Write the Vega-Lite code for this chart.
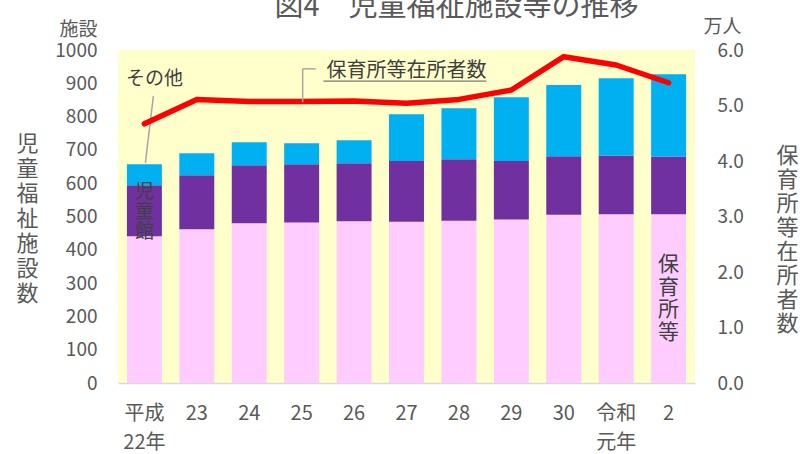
{
  "$schema": "https://vega.github.io/schema/vega-lite/v6.json",
  "width": 577,
  "height": 333,
  "autosize": {"type": "none"},
  "padding": {"left": 118, "top": 50, "right": 110, "bottom": 71},
  "background": "white",
  "config": {
    "font": "Noto Sans CJK JP",
    "view": {"fill": "#FFFFCC", "stroke": null},
    "axis": {"labelFont": "Noto Sans CJK JP", "titleFont": "Noto Sans CJK JP", "labelColor": "#595959", "titleColor": "#595959", "grid": false, "ticks": false, "labelFontSize": 19},
    "text": {"font": "Noto Sans CJK JP"}
  },
  "title": {"text": "図4　児童福祉施設等の推移", "fontSize": 29, "color": "#595959", "fontWeight": "normal", "anchor": "middle", "dx": 50, "dy": 14, "offset": 10, "font": "Noto Sans CJK JP"},
  "datasets": {
    "bars": [
      {"year": "平成22年", "cat": "保育所等", "o": 1, "v": 441},
      {"year": "平成22年", "cat": "児童館", "o": 2, "v": 153},
      {"year": "平成22年", "cat": "その他", "o": 3, "v": 63},
      {"year": "23", "cat": "保育所等", "o": 1, "v": 462},
      {"year": "23", "cat": "児童館", "o": 2, "v": 162},
      {"year": "23", "cat": "その他", "o": 3, "v": 66},
      {"year": "24", "cat": "保育所等", "o": 1, "v": 480},
      {"year": "24", "cat": "児童館", "o": 2, "v": 174},
      {"year": "24", "cat": "その他", "o": 3, "v": 69},
      {"year": "25", "cat": "保育所等", "o": 1, "v": 482},
      {"year": "25", "cat": "児童館", "o": 2, "v": 175},
      {"year": "25", "cat": "その他", "o": 3, "v": 63},
      {"year": "26", "cat": "保育所等", "o": 1, "v": 486},
      {"year": "26", "cat": "児童館", "o": 2, "v": 174},
      {"year": "26", "cat": "その他", "o": 3, "v": 69},
      {"year": "27", "cat": "保育所等", "o": 1, "v": 484},
      {"year": "27", "cat": "児童館", "o": 2, "v": 183},
      {"year": "27", "cat": "その他", "o": 3, "v": 140},
      {"year": "28", "cat": "保育所等", "o": 1, "v": 487},
      {"year": "28", "cat": "児童館", "o": 2, "v": 185},
      {"year": "28", "cat": "その他", "o": 3, "v": 153},
      {"year": "29", "cat": "保育所等", "o": 1, "v": 491},
      {"year": "29", "cat": "児童館", "o": 2, "v": 176},
      {"year": "29", "cat": "その他", "o": 3, "v": 191},
      {"year": "30", "cat": "保育所等", "o": 1, "v": 505},
      {"year": "30", "cat": "児童館", "o": 2, "v": 176},
      {"year": "30", "cat": "その他", "o": 3, "v": 214},
      {"year": "令和元年", "cat": "保育所等", "o": 1, "v": 507},
      {"year": "令和元年", "cat": "児童館", "o": 2, "v": 176},
      {"year": "令和元年", "cat": "その他", "o": 3, "v": 232},
      {"year": "2", "cat": "保育所等", "o": 1, "v": 507},
      {"year": "2", "cat": "児童館", "o": 2, "v": 173},
      {"year": "2", "cat": "その他", "o": 3, "v": 247}
    ],
    "line": [
      {"year": "平成22年", "w": 4.67},
      {"year": "23", "w": 5.11},
      {"year": "24", "w": 5.07},
      {"year": "25", "w": 5.07},
      {"year": "26", "w": 5.08},
      {"year": "27", "w": 5.04},
      {"year": "28", "w": 5.11},
      {"year": "29", "w": 5.28},
      {"year": "30", "w": 5.88},
      {"year": "令和元年", "w": 5.73},
      {"year": "2", "w": 5.41}
    ]
  },
  "encoding": {
    "x": {
      "field": "year",
      "type": "nominal",
      "sort": ["平成22年", "23", "24", "25", "26", "27", "28", "29", "30", "令和元年", "2"],
      "scale": {"paddingInner": 0.333, "paddingOuter": 0.17},
      "axis": {
        "title": null,
        "domain": true,
        "domainColor": "#D9D9D9",
        "domainWidth": 1.5,
        "ticks": false,
        "labelAngle": 0,
        "labelFontSize": 20,
        "labelPadding": 20,
        "labelBaseline": "top",
        "labelLineHeight": 29,
        "labelColor": "#595959",
        "labelOverlap": false,
        "labelExpr": "datum.value === '平成22年' ? ['平成', '22年'] : datum.value === '令和元年' ? ['令和', '元年'] : datum.label"
      }
    }
  },
  "layer": [
    {
      "layer": [
        {
          "data": {"name": "bars"},
          "mark": {"type": "bar"},
          "encoding": {
            "y": {
              "field": "v", "type": "quantitative", "stack": "zero",
              "scale": {"domain": [0, 1000]},
              "axis": {"orient": "left", "domain": false, "ticks": false, "grid": false, "values": [0, 100, 200, 300, 400, 500, 600, 700, 800, 900, 1000], "format": "d", "labelOverlap": false, "labelFontSize": 19, "labelPadding": 21, "labelColor": "#595959", "title": ["児", "童", "福", "祉", "施", "設", "数"], "titleAngle": 0, "titleFontSize": 22, "titleFontWeight": "normal", "titleLineHeight": 25, "titleX": -91, "titleY": 83, "titleBaseline": "top", "titleAlign": "center", "titleColor": "#595959"}
            },
            "color": {
              "field": "cat", "type": "nominal",
              "scale": {"domain": ["保育所等", "児童館", "その他"], "range": ["#FFCCFF", "#7030A0", "#00B0F0"]},
              "legend": null
            },
            "order": {"field": "o", "type": "quantitative"}
          }
        },
        {
          "data": {"values": [{"year": "平成22年", "v": 862, "v2": 661}]},
          "mark": {"type": "rule", "color": "#A6A6A6", "strokeWidth": 1.5, "xOffset": 9, "x2Offset": 1},
          "encoding": {
            "x2": {"field": "year"},
            "y": {"field": "v", "type": "quantitative", "scale": {"domain": [0, 1000]},
              "axis": {"orient": "left", "domain": false, "ticks": false, "grid": false, "values": [0, 100, 200, 300, 400, 500, 600, 700, 800, 900, 1000], "format": "d", "labelOverlap": false, "labelFontSize": 19, "labelPadding": 21, "labelColor": "#595959", "title": ["児", "童", "福", "祉", "施", "設", "数"], "titleAngle": 0, "titleFontSize": 22, "titleFontWeight": "normal", "titleLineHeight": 25, "titleX": -91, "titleY": 83, "titleBaseline": "top", "titleAlign": "center", "titleColor": "#595959"}},
            "y2": {"field": "v2"}
          }
        },
        {
          "data": {"values": [{"year": "平成22年", "v": 913, "t": "その他"}]},
          "mark": {"type": "text", "fontSize": 19, "dx": 10, "color": "#404040", "baseline": "middle"},
          "encoding": {
            "y": {"field": "v", "type": "quantitative", "scale": {"domain": [0, 1000]},
              "axis": {"orient": "left", "domain": false, "ticks": false, "grid": false, "values": [0, 100, 200, 300, 400, 500, 600, 700, 800, 900, 1000], "format": "d", "labelOverlap": false, "labelFontSize": 19, "labelPadding": 21, "labelColor": "#595959", "title": ["児", "童", "福", "祉", "施", "設", "数"], "titleAngle": 0, "titleFontSize": 22, "titleFontWeight": "normal", "titleLineHeight": 25, "titleX": -91, "titleY": 83, "titleBaseline": "top", "titleAlign": "center", "titleColor": "#595959"}},
            "text": {"field": "t"}
          }
        },
        {
          "data": {"values": [{"year": "平成22年", "v": 573, "t": "児\n童\n館"}]},
          "mark": {"type": "text", "fontSize": 19, "lineHeight": 20, "lineBreak": "\n", "color": "#404040", "baseline": "middle"},
          "encoding": {
            "y": {"field": "v", "type": "quantitative", "scale": {"domain": [0, 1000]},
              "axis": {"orient": "left", "domain": false, "ticks": false, "grid": false, "values": [0, 100, 200, 300, 400, 500, 600, 700, 800, 900, 1000], "format": "d", "labelOverlap": false, "labelFontSize": 19, "labelPadding": 21, "labelColor": "#595959", "title": ["児", "童", "福", "祉", "施", "設", "数"], "titleAngle": 0, "titleFontSize": 22, "titleFontWeight": "normal", "titleLineHeight": 25, "titleX": -91, "titleY": 83, "titleBaseline": "top", "titleAlign": "center", "titleColor": "#595959"}},
            "text": {"field": "t"}
          }
        },
        {
          "data": {"values": [{"year": "2", "v": 354, "t": "保\n育\n所\n等"}]},
          "mark": {"type": "text", "fontSize": 21, "lineHeight": 22.5, "lineBreak": "\n", "color": "#404040", "baseline": "middle"},
          "encoding": {
            "y": {"field": "v", "type": "quantitative", "scale": {"domain": [0, 1000]},
              "axis": {"orient": "left", "domain": false, "ticks": false, "grid": false, "values": [0, 100, 200, 300, 400, 500, 600, 700, 800, 900, 1000], "format": "d", "labelOverlap": false, "labelFontSize": 19, "labelPadding": 21, "labelColor": "#595959", "title": ["児", "童", "福", "祉", "施", "設", "数"], "titleAngle": 0, "titleFontSize": 22, "titleFontWeight": "normal", "titleLineHeight": 25, "titleX": -91, "titleY": 83, "titleBaseline": "top", "titleAlign": "center", "titleColor": "#595959"}},
            "text": {"field": "t"}
          }
        },
        {
          "data": {"values": [{"year": "平成22年", "v": 1060, "t": "施設"}]},
          "mark": {"type": "text", "fontSize": 19, "align": "right", "dx": -47, "color": "#595959", "baseline": "middle"},
          "encoding": {
            "y": {"field": "v", "type": "quantitative", "scale": {"domain": [0, 1000]},
              "axis": {"orient": "left", "domain": false, "ticks": false, "grid": false, "values": [0, 100, 200, 300, 400, 500, 600, 700, 800, 900, 1000], "format": "d", "labelOverlap": false, "labelFontSize": 19, "labelPadding": 21, "labelColor": "#595959", "title": ["児", "童", "福", "祉", "施", "設", "数"], "titleAngle": 0, "titleFontSize": 22, "titleFontWeight": "normal", "titleLineHeight": 25, "titleX": -91, "titleY": 83, "titleBaseline": "top", "titleAlign": "center", "titleColor": "#595959"}},
            "text": {"field": "t"}
          }
        }
      ]
    },
    {
      "layer": [
        {
          "data": {"name": "line"},
          "mark": {"type": "line", "color": "#FF0000", "strokeWidth": 5.5, "strokeCap": "round", "strokeJoin": "round"},
          "encoding": {
            "y": {"field": "w", "type": "quantitative", "scale": {"domain": [0, 6]},
              "axis": {"orient": "right", "domain": false, "ticks": false, "grid": false, "values": [0, 1, 2, 3, 4, 5, 6], "format": ".1f", "labelOverlap": false, "labelFontSize": 19, "labelPadding": 22, "labelColor": "#595959", "title": ["保", "育", "所", "等", "在", "所", "者", "数"], "titleAngle": 0, "titleFontSize": 22, "titleFontWeight": "normal", "titleLineHeight": 24, "titleX": 92, "titleY": 95, "titleBaseline": "top", "titleAlign": "center", "titleColor": "#595959"}}
          }
        },
        {
          "data": {"values": [{"year": "27", "w": 5.62, "t": "保育所等在所者数"}]},
          "mark": {"type": "text", "fontSize": 20, "color": "#404040", "baseline": "middle"},
          "encoding": {
            "y": {"field": "w", "type": "quantitative", "scale": {"domain": [0, 6]},
              "axis": {"orient": "right", "domain": false, "ticks": false, "grid": false, "values": [0, 1, 2, 3, 4, 5, 6], "format": ".1f", "labelOverlap": false, "labelFontSize": 19, "labelPadding": 22, "labelColor": "#595959", "title": ["保", "育", "所", "等", "在", "所", "者", "数"], "titleAngle": 0, "titleFontSize": 22, "titleFontWeight": "normal", "titleLineHeight": 24, "titleX": 92, "titleY": 95, "titleBaseline": "top", "titleAlign": "center", "titleColor": "#595959"}},
            "text": {"field": "t"}
          }
        },
        {
          "data": {"values": [{"year": "27", "w": 5.44}]},
          "mark": {"type": "rule", "color": "#595959", "strokeWidth": 1, "xOffset": -83, "x2Offset": 80},
          "encoding": {
            "x2": {"field": "year"},
            "y": {"field": "w", "type": "quantitative", "scale": {"domain": [0, 6]},
              "axis": {"orient": "right", "domain": false, "ticks": false, "grid": false, "values": [0, 1, 2, 3, 4, 5, 6], "format": ".1f", "labelOverlap": false, "labelFontSize": 19, "labelPadding": 22, "labelColor": "#595959", "title": ["保", "育", "所", "等", "在", "所", "者", "数"], "titleAngle": 0, "titleFontSize": 22, "titleFontWeight": "normal", "titleLineHeight": 24, "titleX": 92, "titleY": 95, "titleBaseline": "top", "titleAlign": "center", "titleColor": "#595959"}}
          }
        },
        {
          "data": {"values": [{"year": "25", "w": 5.06, "w2": 5.66}]},
          "mark": {"type": "rule", "color": "#A6A6A6", "strokeWidth": 1.5, "xOffset": 1},
          "encoding": {
            "y": {"field": "w", "type": "quantitative", "scale": {"domain": [0, 6]},
              "axis": {"orient": "right", "domain": false, "ticks": false, "grid": false, "values": [0, 1, 2, 3, 4, 5, 6], "format": ".1f", "labelOverlap": false, "labelFontSize": 19, "labelPadding": 22, "labelColor": "#595959", "title": ["保", "育", "所", "等", "在", "所", "者", "数"], "titleAngle": 0, "titleFontSize": 22, "titleFontWeight": "normal", "titleLineHeight": 24, "titleX": 92, "titleY": 95, "titleBaseline": "top", "titleAlign": "center", "titleColor": "#595959"}},
            "y2": {"field": "w2"}
          }
        },
        {
          "data": {"values": [{"year": "25", "w": 5.66}]},
          "mark": {"type": "rule", "color": "#A6A6A6", "strokeWidth": 1.5, "xOffset": 1, "x2Offset": 14},
          "encoding": {
            "x2": {"field": "year"},
            "y": {"field": "w", "type": "quantitative", "scale": {"domain": [0, 6]},
              "axis": {"orient": "right", "domain": false, "ticks": false, "grid": false, "values": [0, 1, 2, 3, 4, 5, 6], "format": ".1f", "labelOverlap": false, "labelFontSize": 19, "labelPadding": 22, "labelColor": "#595959", "title": ["保", "育", "所", "等", "在", "所", "者", "数"], "titleAngle": 0, "titleFontSize": 22, "titleFontWeight": "normal", "titleLineHeight": 24, "titleX": 92, "titleY": 95, "titleBaseline": "top", "titleAlign": "center", "titleColor": "#595959"}}
          }
        },
        {
          "data": {"values": [{"year": "2", "w": 6.42, "t": "万人"}]},
          "mark": {"type": "text", "fontSize": 19, "align": "left", "dx": 35, "color": "#595959", "baseline": "middle"},
          "encoding": {
            "y": {"field": "w", "type": "quantitative", "scale": {"domain": [0, 6]},
              "axis": {"orient": "right", "domain": false, "ticks": false, "grid": false, "values": [0, 1, 2, 3, 4, 5, 6], "format": ".1f", "labelOverlap": false, "labelFontSize": 19, "labelPadding": 22, "labelColor": "#595959", "title": ["保", "育", "所", "等", "在", "所", "者", "数"], "titleAngle": 0, "titleFontSize": 22, "titleFontWeight": "normal", "titleLineHeight": 24, "titleX": 92, "titleY": 95, "titleBaseline": "top", "titleAlign": "center", "titleColor": "#595959"}},
            "text": {"field": "t"}
          }
        }
      ]
    }
  ],
  "resolve": {"scale": {"y": "independent"}}
}
